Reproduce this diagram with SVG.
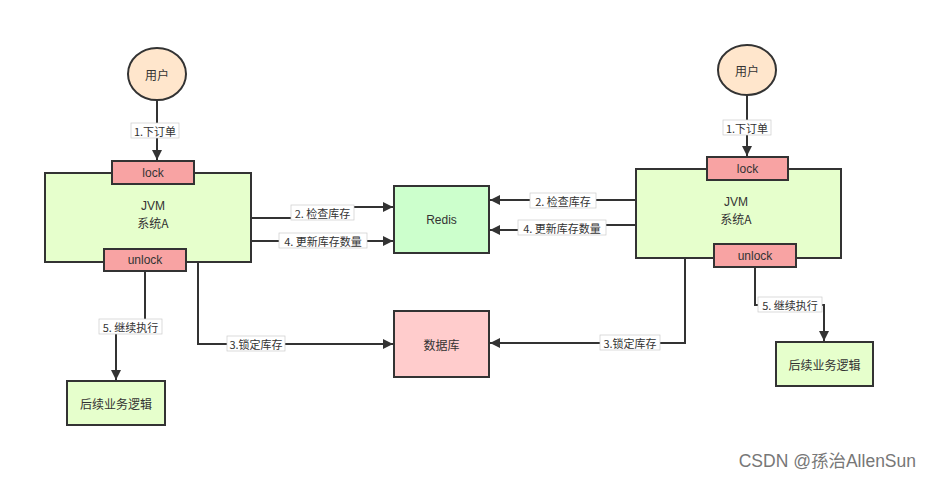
<svg xmlns="http://www.w3.org/2000/svg" width="932" height="484" viewBox="0 0 932 484">
<defs>
<marker id="ah" viewBox="0 0 10 10" refX="10" refY="5" markerWidth="10" markerHeight="10" markerUnits="userSpaceOnUse" orient="auto">
<path d="M0,0 L10,5 L0,10 Z" fill="#333"/>
</marker>
<style>
.n{stroke:#333;stroke-width:2}
.t{font-family:"Noto Sans CJK SC","Liberation Sans",sans-serif;font-size:12px;fill:#333;text-anchor:middle;dominant-baseline:central}
.e{font-family:"Liberation Sans","Noto Sans CJK SC",sans-serif;font-size:12px;fill:#333;text-anchor:middle;dominant-baseline:central}
.c{fill:none;stroke:#333;stroke-width:2;marker-end:url(#ah)}
.lb{fill:#fff;stroke:#ccc;stroke-width:0.7}
.lt{font-family:"Noto Sans CJK SC","Liberation Sans",sans-serif;font-size:11px;fill:#333;text-anchor:middle;dominant-baseline:central}
</style>
</defs>
<rect width="932" height="484" fill="#fff"/>
<g id="connectors">
<path class="c" d="M157,100 V160"/>
<path class="c" d="M251,218 H322 V207 H393"/>
<path class="c" d="M251,241 H393"/>
<path class="c" d="M198,262 V344 H393"/>
<path class="c" d="M145,271 V327 H116 V380"/>
<path class="c" d="M747,95 V156"/>
<path class="c" d="M636,200 H490"/>
<path class="c" d="M636,225 H562 V230 H490"/>
<path class="c" d="M685,258 V343 H490"/>
<path class="c" d="M755,267 V305 H824 V341"/>
<g id="labels">
<rect class="lb" x="131" y="123" width="48" height="15"/><text class="lt" x="155" y="130.5">1.下订单</text>
<rect class="lb" x="291" y="205" width="63" height="15"/><text class="lt" x="322.5" y="212.5">2. 检查库存</text>
<rect class="lb" x="279" y="233" width="88" height="15"/><text class="lt" x="323" y="240.5">4. 更新库存数量</text>
<rect class="lb" x="227" y="336" width="58" height="15"/><text class="lt" x="256" y="343.5">3.锁定库存</text>
<rect class="lb" x="99" y="319" width="63" height="15"/><text class="lt" x="130.5" y="326.5">5. 继续执行</text>
<rect class="lb" x="723" y="120" width="48" height="15"/><text class="lt" x="747" y="127.5">1.下订单</text>
<rect class="lb" x="530" y="193" width="66" height="15"/><text class="lt" x="563" y="200.5">2. 检查库存</text>
<rect class="lb" x="518" y="220" width="88" height="15"/><text class="lt" x="562" y="227.5">4. 更新库存数量</text>
<rect class="lb" x="600" y="335" width="60" height="15"/><text class="lt" x="630" y="342.5">3.锁定库存</text>
<rect class="lb" x="758" y="297" width="64" height="15"/><text class="lt" x="790" y="304.5">5. 继续执行</text>
</g>
</g>
<g id="user1"><ellipse class="n" cx="157" cy="74" rx="29" ry="26" fill="#ffe6cc"/><text class="t" x="157" y="74">用户</text></g>
<g id="jvm1"><rect class="n" x="45" y="173" width="206" height="89" fill="#e6ffcc"/><text class="e" x="153" y="206">JVM</text><text class="t" x="153" y="222">系统A</text></g>
<g id="lock1"><rect class="n" x="112" y="161" width="82" height="23" fill="#f8a3a3"/><text class="e" x="153" y="172.5">lock</text></g>
<g id="unlock1"><rect class="n" x="104" y="249" width="82" height="22" fill="#f8a3a3"/><text class="e" x="145" y="260">unlock</text></g>
<g id="next1"><rect class="n" x="67" y="381" width="98" height="44" fill="#e6ffcc"/><text class="t" x="116" y="403">后续业务逻辑</text></g>
<g id="redis"><rect class="n" x="394" y="186" width="95" height="67" fill="#ccffcc"/><text class="e" x="441.5" y="219.5">Redis</text></g>
<g id="db"><rect class="n" x="394" y="311" width="95" height="66" fill="#ffcccc"/><text class="t" x="441.5" y="344">数据库</text></g>
<g id="user2"><ellipse class="n" cx="747" cy="70" rx="29" ry="25" fill="#ffe6cc"/><text class="t" x="747" y="70">用户</text></g>
<g id="jvm2"><rect class="n" x="636" y="169" width="205" height="89" fill="#e6ffcc"/><text class="e" x="736" y="202">JVM</text><text class="t" x="736" y="218">系统A</text></g>
<g id="lock2"><rect class="n" x="707" y="157" width="81" height="23" fill="#f8a3a3"/><text class="e" x="747.5" y="168.5">lock</text></g>
<g id="unlock2"><rect class="n" x="714" y="244" width="82" height="23" fill="#f8a3a3"/><text class="e" x="755" y="255.5">unlock</text></g>
<g id="next2"><rect class="n" x="776" y="342" width="97" height="44" fill="#e6ffcc"/><text class="t" x="824.5" y="364">后续业务逻辑</text></g>
<text x="916" y="467" font-family="'Liberation Sans','Noto Sans CJK SC',sans-serif" font-size="17.5" fill="#777" text-anchor="end">CSDN @孫治AllenSun</text>
</svg>
